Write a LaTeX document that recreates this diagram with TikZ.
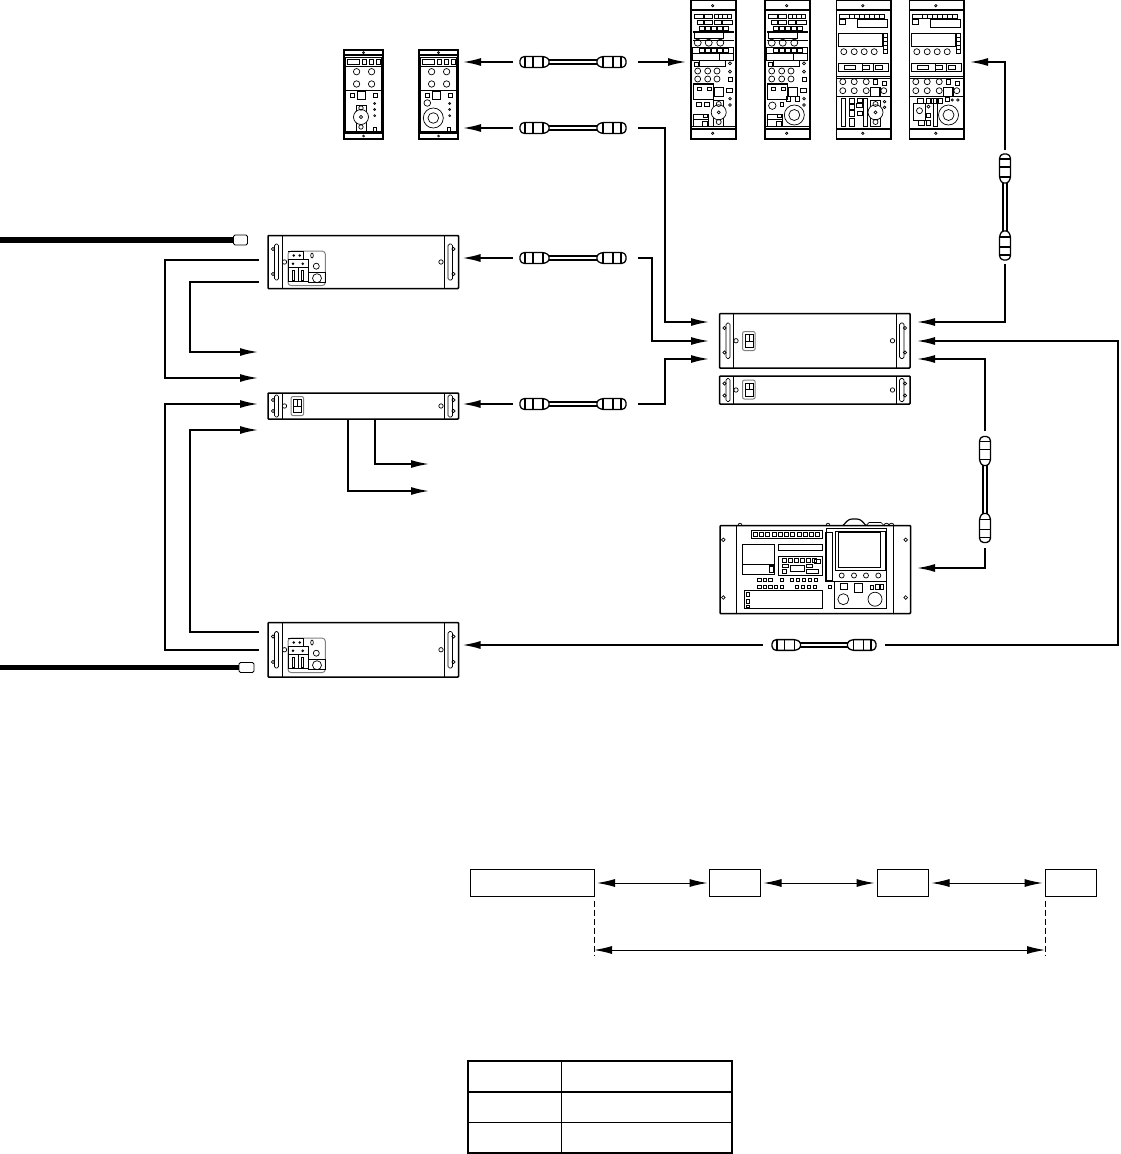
\documentclass[tikz,border=0pt]{standalone}
\usepackage{tikz}
\usetikzlibrary{arrows.meta, positioning}

\newcommand{\partboxes}[1]{\foreach \a/\b/\c/\d in {#1} \draw (\a,\b) rectangle (\c,\d);}
\newcommand{\partdots}[1]{\foreach \a/\b/\r in {#1} \draw (\a,\b) circle[radius=\r];}
\newcommand{\partlines}[1]{\foreach \a/\b/\c/\d in {#1} \draw (\a,\b) -- (\c,\d);}

\tikzset{
  pics/cable/.style={code={
    \draw[line width=6pt] (-25,0) -- (25,0);
    \draw[white, line width=2.8pt] (-25,0) -- (25,0);
    \foreach \s in {-1,1} {
      \draw[line width=1.3pt, fill=white, rounded corners=1.5pt]
        (\s*53,-3) -- (\s*50,-5.5) -- (\s*29,-5.5) -- (\s*24,-3) -- (\s*24,3) -- (\s*29,5.5) -- (\s*50,5.5) -- (\s*53,3) -- cycle;
      \draw[line width=1.2pt] (\s*48,-5.5) -- (\s*48,5.5) (\s*40,-5.5) -- (\s*40,5.5) (\s*30,-5.5) -- (\s*30,5.5);
    }
  }},
  pics/smalltop/.style={code={
    \draw[line width=1.4pt] (0,5) -- (39,5) (0,83) -- (39,83);
    \draw (1.5,7) rectangle (37.5,81);
    \partdots{19.5/2.7/1, 19.5/86/1, 12.6/21.7/3.2, 27.6/21.7/3.2, 12.6/34/3.2, 27.6/34/3.2, 30.7/53.5/1, 30.7/59.5/1, 30.7/65.7/1}
    \partboxes{3/9/15/14, 18/9/22/14, 25/9/29/14, 32.5/9/36/14, 6/43/10/47, 13/41/21/49, 29/43/33/47}
    \partlines{1.5/16/37.5/16, 1.5/40/37.5/40}
  }},
  pics/bigupper/.style={code={
    \draw[line width=1.4pt] (0,10) -- (45,10) (0,129) -- (45,129);
    \draw (0,126) -- (45,126);
    \partdots{21.7/5.7/1.2, 21.7/133.3/1.2, 6.7/42.7/3.5, 17.7/42.7/3.5, 29.3/42.7/3.5, 6.7/71/3, 16.7/71/3, 26/71/3, 6.7/79/3, 16.7/79/3, 26/79/3, 39/63.3/1.5, 39/71.7/1.5, 39/98.7/1.3, 39/105/1.3}
    \partboxes{3/14/12/18, 13.3/14/21/18, 23/14/27/18, 27/14/31.3/18, 31.3/14/36/18, 36/14/40.3/18, 6.7/20/12/24, 13.3/20/21/24, 23/20/30/24, 31/20/41/24, 1.7/47.7/42.7/53, 1.7/53/28.3/60, 28.3/53/42.7/60, 8.7/60.7/34.3/66.7, 3.3/62/7.7/66, 37.7/77/41/81, 35/88/41/92.7, 6.7/87.3/10.3/90.7, 16.7/87.3/20/90.7, 23.3/87.3/32/96, 2/114/17.7/119.3, 2/119.3/17.7/126, 12.7/114/16/117.3}
    \draw[line width=1.4pt] (1.7,32) -- (43,32) (1.7,47.7) -- (43,47.7) (1.7,84) -- (22.7,84);
    \partlines{3.3/32/3.3/38.3, 3.3/38.3/32.7/38.3, 32.7/32/32.7/38.3, 1.7/40/42.7/40, 2/84/2/99.3, 2/99.3/22.7/99.3, 22.7/84/22.7/99.3}
    \foreach \x in {8.7,14.5,20.5,26.5,32} {
      \draw[line width=1pt] (\x,26) rectangle ++(5,4.7);
      \draw[line width=1pt] (\x,48.5) rectangle ++(5,3.5);
    }
  }},
  pics/bigjoy/.style={code={
    \partboxes{5.3/102.7/10/106.7, 13.3/102.7/18.3/106.7, 22.7/100/32.7/126}
    \draw[fill=white] (27.7,112.3) circle[radius=7.5];
    \partdots{27.7/112.3/1.5, 27.7/104/2.5, 27.7/122/2.5}
    \partboxes{11/121/16/126}
  }},
  pics/bigball/.style={code={
    \partboxes{21.7/96/25.7/101, 30.7/96/34.3/101, 15/102.7/18.3/106, 11/121/16/126}
    \partdots{7.3/105.7/3.7, 29.3/115/10, 29.3/115/5.5}
  }},
  pics/wideupper/.style={code={
    \draw[line width=1.4pt] (0,10) -- (54,10) (0,129) -- (54,129);
    \draw[line width=1.4pt] (1.7,33.3) rectangle (45.7,46.7);
    \partdots{26.3/5.7/1.2, 26.3/133.3/1.2, 7.3/51.7/3, 17.7/51.7/3, 27.7/51.7/3, 37.7/51.7/3, 6.3/81.7/3, 17.7/81.7/3, 29.7/81.7/3, 6.3/90.7/3, 17.7/90.7/3, 29.7/90.7/3, 47.3/90.7/3}
    \partboxes{3.3/14.3/13.3/18.3, 3.3/19.3/9/24, 21.3/19.3/50.7/27.3, 1.7/63.3/52.3/71, 8.3/65/19/69.3, 26.3/65/33/69.3, 39/65/46.3/69.3, 36.7/79.3/40.7/84.3, 45.7/81/50/85, 47/33.3/51/37, 47/37/51/41, 47/41/51/45, 47/45/51/49, 47/49/51/53}
    \draw[line width=1.4pt] (34,87.3) rectangle (43.3,96.7);
    \foreach \x in {13.3,18.3,23.3,28.3,33.3,38.3,43.3} \draw (\x,14.3) rectangle ++(5,4);
    \partlines{25.7/63.3/25.7/71, 37.3/63.3/37.3/71, 0/78.3/54/78.3, 0/76.5/54/76.5, 0/96.7/54/96.7}
  }},
  pics/widejoy/.style={code={
    \partboxes{4.7/98/9/126, 13.3/98/18/103, 13.3/104/18/109, 13.3/110/18/116, 13.3/118/18/126, 20.7/98/25.7/102, 20/103.3/25.7/107.3, 20.7/111.7/25.7/115, 27.3/98/31.3/126, 34/100/44/126}
    \draw[fill=white] (39,112.3) circle[radius=7.5];
    \partdots{39/112.3/1.5, 39/104/2.5, 39/122/2.5, 48/101.7/1.3, 48/107.3/1.3}
  }},
  pics/wideball/.style={code={
    \partboxes{8/98/14/103, 17/98/21/103, 22/98/27/103, 29/98/33/103, 3.7/103/15.7/120, 8.7/120/14.7/125, 17.3/113/21.3/117.3, 17.3/120.7/21.3/125, 23.7/98/28/126, 36/97/40/101}
    \partdots{10/110.7/3, 19/106.7/1.5, 39/115/10, 39/115/5.5, 42.7/100/1.2, 48.3/100/1.2}
  }},
  pics/rackends/.style 2 args={code={
    \partlines{14/0/14/#1, 176.5/0/176.5/#1}
    \draw[rounded corners=1.5pt] (6.5,#2) rectangle (10.5,{#1-#2});
    \draw[rounded corners=1.5pt] (180,#2) rectangle (184.5,{#1-#2});
    \partdots{5/{#2+5}/1.6, 5/{#1-#2-6}/1.6, 185.5/{#2+5}/1.6, 185.5/{#1-#2-6}/1.6, 16.5/{#1/2}/2.2, 173/{#1/2}/2.2}
  }},
  pics/rackswitch/.style={code={
    \draw[gray, line width=1pt, rounded corners=2pt] (23,-9.5) rectangle (35.7,9.5);
    \partboxes{25.5/-6.5/33.5/6.5}
    \partlines{25.5/0/33.5/0, 29.5/-6.5/29.5/0}
  }},
  pics/rackcluster/.style={code={
    \draw[gray, line width=1pt, rounded corners=3pt] (20,15.7) rectangle (57.3,50);
    \partboxes{20/23.5/40.7/31.5, 20/31.5/30.5/46, 30.5/31.5/40.7/46, 40.7/36.7/57.3/47.3, 24/35/26.3/45, 33.3/35/35.7/45}
    \partlines{20/15.7/35/15.7, 35/15.7/35/23.5}
    \partdots{25.7/20/0.9, 31.7/20/0.9, 25/28.3/0.9, 34.7/28.3/0.9, 48.3/30.7/3, 49/42.7/4.5}
    \draw (44,20) ellipse[x radius=1.3, y radius=2.5];
  }},
  pics/monitorparts/.style={code={
    \draw (18,0) .. controls (18,-3) and (22,-3) .. (22,0);
    \draw (106,0) .. controls (106,-3) and (110,-3) .. (110,0);
    \draw[line width=1.2pt, rounded corners=3pt] (123,0) -- (129,-6.5) -- (140,-6.5) -- (146,0);
    \draw (146,0) -- (149,-3) -- (161,-3) -- (164,0);
    \draw (164,0) .. controls (164,-3) and (169,-3) .. (169,0);
    \draw (169,0) .. controls (169,-3) and (174,-3) .. (174,0);
    \partlines{16.7/0/16.7/88, 173.3/0/173.3/88, 22.3/39.3/54.3/39.3, 106/2.7/166.7/2.7}
    \partdots{3.3/14.3/1.8, 3.3/72/1.8, 185.7/14.3/1.8, 185.7/72/1.8, 121.7/50/2.5, 134/50/2.5, 146/50/2.5, 158.3/50/2.5, 123.3/73.7/5.5, 155/73.7/7}
    \partboxes{22.3/18.7/54.3/49.3, 58.3/18.7/102.7/25.3, 58.3/31/102.7/50, 24.3/65/102.7/82.7, 106/2.7/166.7/56, 114.3/56/166.7/83.3, 120/58.3/127.7/63.7, 134.3/58.3/142.7/66.7, 150/60/153/63.5, 155/59/159/63.5, 160/59/163.3/63.5, 26/67/29/71, 26/74/29/78, 26/79.5/29/82}
    \draw[line width=1.4pt] (31.7,5) rectangle (102.7,12.7);
    \draw[line width=1.4pt] (49.3,40.3) rectangle (54,47);
    \draw[line width=1.4pt] (106,7) rectangle (112.7,55.3);
    \draw[line width=1.4pt] (118.3,7) rectangle (160.7,41.7);
    \draw (115,5.5) rectangle (165,45);
    \foreach \x in {33.5,39.5,45.5,52,58,64,70,77,83,89,95} \draw[line width=1pt] (\x,6.5) rectangle ++(4.2,4.7);
    \foreach \x in {62,68,74,80,86,92} \draw[line width=.9pt] (\x,32.5) rectangle ++(4,4);
    \partboxes{62/38.5/68/42, 62/44/66/48, 70/40/84/46, 86/38.5/92/42, 86/44/98/48, 94/34/100/38}
    \foreach \x/\y in {37.5/53,43/53,48.5/53,60/53,70/53,76/53,82/53,88/53,94/53,37.5/60,43/60,48.5/60,54/60,60/60,75/60,81/60,87/60,93/60,108/60}
      \draw[line width=.9pt] (\x,\y) rectangle ++(3.5,3);
  }},
  every node/.style={inner sep=0pt, outer sep=0pt}
}

\begin{document}
\begin{tikzpicture}[
  x=1pt, y=-1pt,
  node distance=36pt,
  panel/.style={draw, line width=1.5pt, anchor=north west, minimum width=39pt, minimum height=89pt},
  bigpanel/.style={draw, line width=1.5pt, anchor=north west, minimum width=45pt, minimum height=139pt},
  widepanel/.style={draw, line width=1.5pt, anchor=north west, minimum width=54.5pt, minimum height=139pt},
  rack/.style={draw, line width=1.5pt, rounded corners=.8pt, anchor=north west, minimum width=190.5pt, minimum height=#1},
  cable/.style={minimum width=#1, minimum height=14pt},
  vcable/.style={minimum width=14pt, minimum height=#1},
  part/.style={line width=.7pt},
  arrow/.style={-{Latex[length=18pt, width=8pt]}, line width=1.6pt},
  feed/.style={line width=5.5pt},
  plug/.style={draw, line width=.8pt, rounded corners=1.5pt, minimum width=15pt, minimum height=10pt},
  unit/.style={draw, line width=1pt, minimum height=27pt},
  span/.style={{Latex[length=18pt, width=8pt]}-{Latex[length=18pt, width=8pt]}, line width=1pt},
  guide/.style={dash pattern=on 6pt off 3pt, line width=1pt},
  grid/.style={line width=1pt}
]
\useasboundingbox (0,0) rectangle (1120,1154);

\node[panel] (panelA) at (344,50) {};
\node[panel, right=36pt of panelA] (panelB) {};
\node[bigpanel] (panelC) at (691,0) {};
\node[bigpanel, right=29pt of panelC] (panelD) {};
\node[widepanel, right=26.5pt of panelD] (panelE) {};
\node[widepanel, right=18.5pt of panelE] (panelF) {};

\node[rack=53pt] (rackA) at (268,235.5) {};
\node[rack=26pt] (rackB) at (268,393) {};
\node[rack=54.5pt] (rackC) at (268,622.5) {};
\node[rack=54.5pt] (rackR) at (719.5,313.5) {};
\node[rack=28pt, below=8pt of rackR] (rackS) {};
\node[rack=88pt] (monitor) at (720,525.5) {};

\node[cable=125pt] (cblA) at (575.5,62) {};
\node[cable=125pt] (cblB) at (575.5,128) {};
\node[cable=125pt] (cblC) at (575.5,258) {};
\node[cable=125pt] (cblD) at (575.5,404) {};
\node[cable=122pt] (cblE) at (824,645) {};
\node[vcable=114pt] (cblF) at (1005,207) {};
\node[vcable=117pt] (cblG) at (985,489.5) {};

\pic[part] at (panelA.north west) {smalltop};
\pic[part] at (panelB.north west) {smalltop};
\pic[part] at (panelC.north west) {bigupper};
\pic[part] at (panelD.north west) {bigupper};
\pic[part] at (panelE.north west) {wideupper};
\pic[part] at (panelF.north west) {wideupper};
\pic[part] at (panelC.north west) {bigjoy};
\pic[part] at (panelD.north west) {bigball};
\pic[part] at (panelE.north west) {widejoy};
\pic[part] at (panelF.north west) {wideball};

\begin{scope}[part, shift={(panelA.north west)}]
  \partboxes{12/55/22/81, 29/77/32/81}
  \draw[fill=white] (17,67) circle[radius=7.5];
  \partdots{17/67/1.6, 17/58/2.2, 17/77/2.2}
\end{scope}
\begin{scope}[part, shift={(panelB.north west)}]
  \partboxes{28/77/31/81}
  \partdots{8.3/53/3.3, 14.3/68/10, 14.3/68/5.3}
\end{scope}

\pic[part] at (rackA.north west) {rackends={53}{8.5}};
\pic[part] at (rackA.north west) {rackcluster};
\pic[part] at (rackB.north west) {rackends={26}{2}};
\pic[part] at ([yshift=-13pt]rackB.north west) {rackswitch};
\pic[part] at (rackC.north west) {rackends={54.5}{9}};
\pic[part] at (rackC.north west) {rackcluster};
\pic[part] at (rackR.north west) {rackends={54.5}{9.5}};
\pic[part] at ([yshift=-27.5pt]rackR.north west) {rackswitch};
\pic[part] at (rackS.north west) {rackends={28}{2.5}};
\pic[part] at ([yshift=-13.5pt]rackS.north west) {rackswitch};
\pic[part] at (monitor.north west) {monitorparts};

\pic at ([xshift=-2.5pt]cblA.center) {cable};
\pic at ([xshift=-2.5pt]cblB.center) {cable};
\pic at ([xshift=-2.5pt]cblC.center) {cable};
\pic at ([xshift=-2.5pt]cblD.center) {cable};
\pic[scale=.98] at (cblE.center) {cable};
\pic[rotate=90] at (cblF.center) {cable};
\pic[rotate=90] at (cblG.center) {cable};

\node[plug, minimum width=14pt] (plugA) at (240.5,240) {};
\node[plug] (plugB) at (246.5,667.5) {};
\coordinate (lineA) at (0,240);
\coordinate (lineB) at (0,667.5);
\draw[feed] (lineA) -- (plugA.west);
\draw[feed] (lineB) -- (plugB.west);

\coordinate (outA) at (259,260);
\coordinate (outB) at (259,282);
\coordinate (inA) at (258,352);
\coordinate (inB) at (258,378);
\coordinate (inC) at (258,404);
\coordinate (inD) at (258,430);
\coordinate (outC) at (259,632);
\coordinate (outD) at (259,650);
\coordinate (tipA) at (429,464);
\coordinate (tipB) at (429,491);
\coordinate (portA) at (720,322);
\coordinate (portB) at (720,341);
\coordinate (portC) at (720,359);
\coordinate (portD) at (910,322);
\coordinate (portE) at (910,341);
\coordinate (portF) at (910,359);
\coordinate (portG) at (910,568);
\coordinate (railR) at (1118,341);

\draw[arrow] (outA) -- ++(-94,0) |- (inB);
\draw[arrow] (outB) -- ++(-69,0) |- (inA);
\draw[arrow] (outD) -- ++(-94,0) |- (inC);
\draw[arrow] (outC) -- ++(-69,0) |- (inD);
\draw[arrow] ([xshift=107pt]rackB.south west) |- (tipA);
\draw[arrow] ([xshift=80pt]rackB.south west) |- (tipB);

\draw[arrow, shorten >=5pt] (cblA.west) -- (panelB.east |- cblA);
\draw[arrow, shorten >=5pt] (cblA.east) -- (panelC.west |- cblA);
\draw[arrow, shorten >=5pt] (cblB.west) -- (panelB.east |- cblB);
\draw[arrow, shorten >=4pt] (cblC.west) -- (rackA.east |- cblC);
\draw[arrow, shorten >=4pt] (cblD.west) -- (rackB.east |- cblD);
\draw[arrow, shorten >=11pt] (cblB.east) -- ++(27,0) |- (portA);
\draw[arrow, shorten >=11pt] (cblC.east) -- ++(14,0) |- (portB);
\draw[arrow, shorten >=11pt] (cblD.east) -- ++(27,0) |- (portC);
\draw[arrow, shorten >=6pt] (cblF.north) |- (panelF.east |- cblA);
\draw[arrow, shorten >=7pt] (cblF.south) |- (portD);
\draw[arrow, shorten >=7pt] (cblG.north) |- (portF);
\draw[arrow, shorten >=7pt] (cblG.south) |- (portG);
\draw[arrow, shorten >=7pt] (cblE.east) -| (railR) -- (portE);
\draw[arrow, shorten >=4pt] (cblE.west) -- (rackC.east |- cblE);

\node[unit, minimum width=124pt, anchor=north west] (console) at (470,869.5) {};
\node[unit, minimum width=51pt, right=115pt of console] (unitA) {};
\node[unit, minimum width=51pt, right=117pt of unitA] (unitB) {};
\node[unit, minimum width=51pt, right=117pt of unitB] (unitC) {};
\draw[span, shorten <=3pt, shorten >=1.5pt] (console) -- (unitA);
\draw[span, shorten <=3.5pt, shorten >=2.5pt] (unitA) -- (unitB);
\draw[span, shorten <=3.5pt, shorten >=2.5pt] (unitB) -- (unitC);

\coordinate (spanL) at (console.east |- 0,950);
\coordinate (spanR) at (unitC.west |- 0,950);
\draw[guide] ([yshift=-4pt]console.south east) -- ++(0,55);
\draw[guide] ([yshift=-4pt]unitC.south west) -- ++(0,55);
\draw[span] (spanL) -- (spanR);

\node[draw, line width=2pt, anchor=north west, minimum width=264pt, minimum height=92pt] (limits) at (468,1061) {};
\coordinate (rowA) at (limits.west |- 0,1092);
\coordinate (rowB) at (limits.west |- 0,1122.5);
\draw[line width=2pt] (rowA) -- (limits.east |- rowA);
\draw[grid] (rowB) -- (limits.east |- rowB);
\draw[grid] ([xshift=93pt]limits.north west) -- ([xshift=93pt]limits.south west);
\end{tikzpicture}
\end{document}
